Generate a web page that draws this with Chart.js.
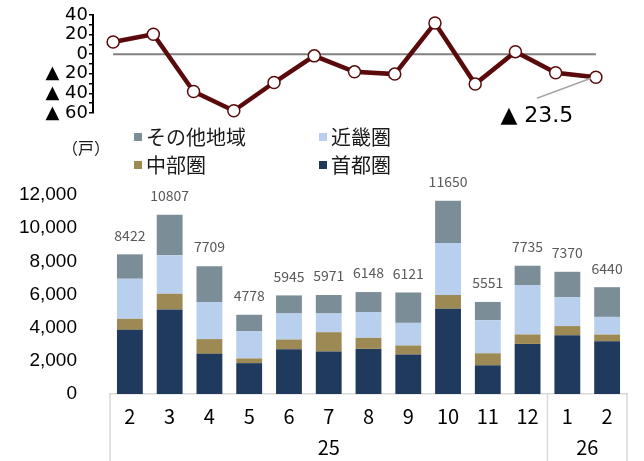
<!DOCTYPE html>
<html>
<head>
<meta charset="utf-8">
<script src="https://cdn.jsdelivr.net/npm/chart.js@4/dist/chart.umd.min.js"></script>
<style>
html, body { margin: 0; padding: 0; background: #fff; }
#wrap { position: relative; width: 644px; height: 461px; overflow: hidden; }
#barChart, #lineChart { position: absolute; left: 0; top: 0; }
</style>
</head>
<body>
<div id="wrap">
  <canvas id="barChart" width="644" height="461"></canvas>
  <canvas id="lineChart" width="644" height="130"></canvas>
</div>
<script>
// DATA
const months = ['2', '3', '4', '5', '6', '7', '8', '9', '10', '11', '12', '1', '2'];
const years  = ['25', '25', '25', '25', '25', '25', '25', '25', '25', '25', '25', '26', '26'];

// 前年同月比 (%)
const yoyChange = [12.5, 20.3, -38.0, -57.7, -28.9, -1.7, -18.0, -20.3, 31.8, -30.5, 2.6, -19.0, -23.5];
const zeroLine  = [0, 0, 0, 0, 0, 0, 0, 0, 0, 0, 0, 0, 0];

// 戸数
const shutoken = [3870, 5100, 2420, 1860, 2700, 2560, 2720, 2380, 5140, 1730, 3020, 3550, 3180];
const chubu    = [665, 945, 890, 285, 585, 1165, 665, 545, 830, 725, 570, 545, 405];
const kinki    = [2415, 2320, 2235, 1630, 1570, 1130, 1555, 1365, 3140, 1995, 2980, 1735, 1065];
const sonota   = [1472, 2442, 2164, 1003, 1090, 1116, 1208, 1831, 2540, 1101, 1165, 1540, 1790];
const totals   = [8422, 10807, 7709, 4778, 5945, 5971, 6148, 6121, 11650, 5551, 7735, 7370, 6440];

const jpFont = '"Noto Sans CJK JP", "Noto Sans", sans-serif';

// 折れ線の最後の点に注記を付ける
const lastLabel = {
    id: 'lastLabel',
    afterDatasetsDraw(chart) {
        const meta = chart.getDatasetMeta(0);
        const pt = meta.data[meta.data.length - 1];
        const v = yoyChange[yoyChange.length - 1];
        const ctx = chart.ctx;
        ctx.save();
        ctx.strokeStyle = '#a6a6a6';
        ctx.lineWidth = 1.5;
        ctx.beginPath();
        ctx.moveTo(pt.x - 5, pt.y + 1);
        ctx.lineTo(pt.x - 59, pt.y + 21);
        ctx.stroke();
        ctx.font = '22px "DejaVu Sans"';
        ctx.fillStyle = '#000';
        ctx.textAlign = 'center';
        ctx.textBaseline = 'middle';
        ctx.fillText((v < 0 ? '▲ ' : '') + Math.abs(v), pt.x - 59, pt.y + 39);
        ctx.restore();
    }
};

new Chart(document.getElementById('lineChart'), {
    type: 'line',
    data: {
        labels: months,
        datasets: [
            {
                data: yoyChange,
                borderColor: '#5a0a0a',
                borderWidth: 4.5,
                pointRadius: 6,
                pointBorderWidth: 1.5,
                pointBackgroundColor: '#fff',
                pointBorderColor: '#5a0a0a',
                tension: 0,
                clip: false,
                order: 0
            },
            {
                data: zeroLine,
                borderColor: '#808080',
                borderWidth: 2,
                pointRadius: 0,
                order: 1
            }
        ]
    },
    options: {
        responsive: false,
        animation: false,
        layout: { padding: { top: 15, bottom: 17, left: 0, right: 28 } },
        plugins: { legend: { display: false }, tooltip: { enabled: false } },
        scales: {
            x: { display: false, offset: true },
            y: {
                min: -60,
                max: 40,
                afterFit: s => { s.width = 93; },
                border: { display: true, color: '#000', width: 2 },
                grid: { drawOnChartArea: false, drawTicks: true, tickLength: 4, color: '#000', lineWidth: 1.5 },
                ticks: {
                    stepSize: 10,
                    autoSkip: false,
                    padding: 1,
                    color: '#000',
                    font: { family: 'DejaVu Sans', size: 18 },
                    callback: v => v % 20 !== 0 ? '' : (v < 0 ? '▲ ' + (-v) : String(v))
                }
            }
        }
    },
    plugins: [lastLabel]
});

// 棒の上の合計
const totalLabels = {
    id: 'totalLabels',
    afterDatasetsDraw(chart) {
        const top = chart.getDatasetMeta(3);
        const ctx = chart.ctx;
        ctx.save();
        ctx.font = '14px ' + jpFont;
        ctx.fillStyle = '#595959';
        ctx.textAlign = 'center';
        ctx.textBaseline = 'middle';
        totals.forEach((t, i) => {
            const bar = top.data[i];
            ctx.fillText(String(t), bar.x, bar.y - 19);
        });
        ctx.restore();
    }
};

// 2列の凡例と単位
const gridLegend = {
    id: 'gridLegend',
    afterDraw(chart) {
        const ctx = chart.ctx;
        const order = [[3, 2], [1, 0]];
        const colX = [134, 319];
        const rowY = [137, 165];
        ctx.save();
        ctx.textBaseline = 'middle';
        ctx.textAlign = 'left';
        ctx.font = '20px ' + jpFont;
        order.forEach((row, r) => {
            row.forEach((di, c) => {
                const ds = chart.data.datasets[di];
                ctx.fillStyle = ds.backgroundColor;
                ctx.fillRect(colX[c], rowY[r] - 4, 8, 8);
                ctx.fillStyle = '#1a1a1a';
                ctx.fillText(ds.label, colX[c] + 12, rowY[r]);
            });
        });
        ctx.font = '16px ' + jpFont;
        ctx.textAlign = 'center';
        ctx.fillText('（戸）', 86, 148);
        ctx.restore();
    }
};

// 年の段と区切り線
const yearAxis = {
    id: 'yearAxis',
    afterDraw(chart) {
        const x = chart.scales.x;
        const area = chart.chartArea;
        const ctx = chart.ctx;
        const bottom = chart.height;
        ctx.save();
        ctx.strokeStyle = '#d9d9d9';
        ctx.lineWidth = 1.5;
        const vline = px => {
            ctx.beginPath();
            ctx.moveTo(px, area.bottom);
            ctx.lineTo(px, bottom);
            ctx.stroke();
        };
        vline(area.left);
        vline(area.right);
        ctx.font = '20px ' + jpFont;
        ctx.fillStyle = '#000';
        ctx.textAlign = 'center';
        ctx.textBaseline = 'middle';
        let start = 0;
        for (let i = 1; i <= years.length; i++) {
            if (i === years.length || years[i] !== years[start]) {
                const mid = (x.getPixelForValue(start) + x.getPixelForValue(i - 1)) / 2;
                ctx.fillText(years[start], mid, 447);
                if (i < years.length) {
                    vline((x.getPixelForValue(i - 1) + x.getPixelForValue(i)) / 2);
                }
                start = i;
            }
        }
        ctx.restore();
    }
};

new Chart(document.getElementById('barChart'), {
    type: 'bar',
    data: {
        labels: months,
        datasets: [
            { label: '首都圏', data: shutoken, backgroundColor: '#1f3a5c' },
            { label: '中部圏', data: chubu, backgroundColor: '#9c8954' },
            { label: '近畿圏', data: kinki, backgroundColor: '#b8cfed' },
            { label: 'その他地域', data: sonota, backgroundColor: '#7b8e98' }
        ]
    },
    options: {
        responsive: false,
        animation: false,
        locale: 'en-US',
        datasets: { bar: { barPercentage: 0.65, categoryPercentage: 1 } },
        layout: { padding: { top: 195, right: 17, left: 0, bottom: 0 } },
        plugins: { legend: { display: false }, tooltip: { enabled: false } },
        scales: {
            x: {
                stacked: true,
                offset: true,
                afterFit: s => { s.height = 67; },
                grid: { display: false },
                border: { display: true, color: '#d9d9d9', width: 1.5 },
                ticks: {
                    color: '#000',
                    padding: 2,
                    maxRotation: 0,
                    autoSkip: false,
                    font: { family: 'Noto Sans CJK JP', size: 20 }
                }
            },
            y: {
                stacked: true,
                min: 0,
                max: 12000,
                afterFit: s => { s.width = 110; },
                grid: { display: false },
                border: { display: false },
                ticks: {
                    stepSize: 2000,
                    padding: 25,
                    color: '#000',
                    font: { family: 'Liberation Sans', size: 19 }
                }
            }
        }
    },
    plugins: [totalLabels, gridLegend, yearAxis]
});
</script>
</body>
</html>
